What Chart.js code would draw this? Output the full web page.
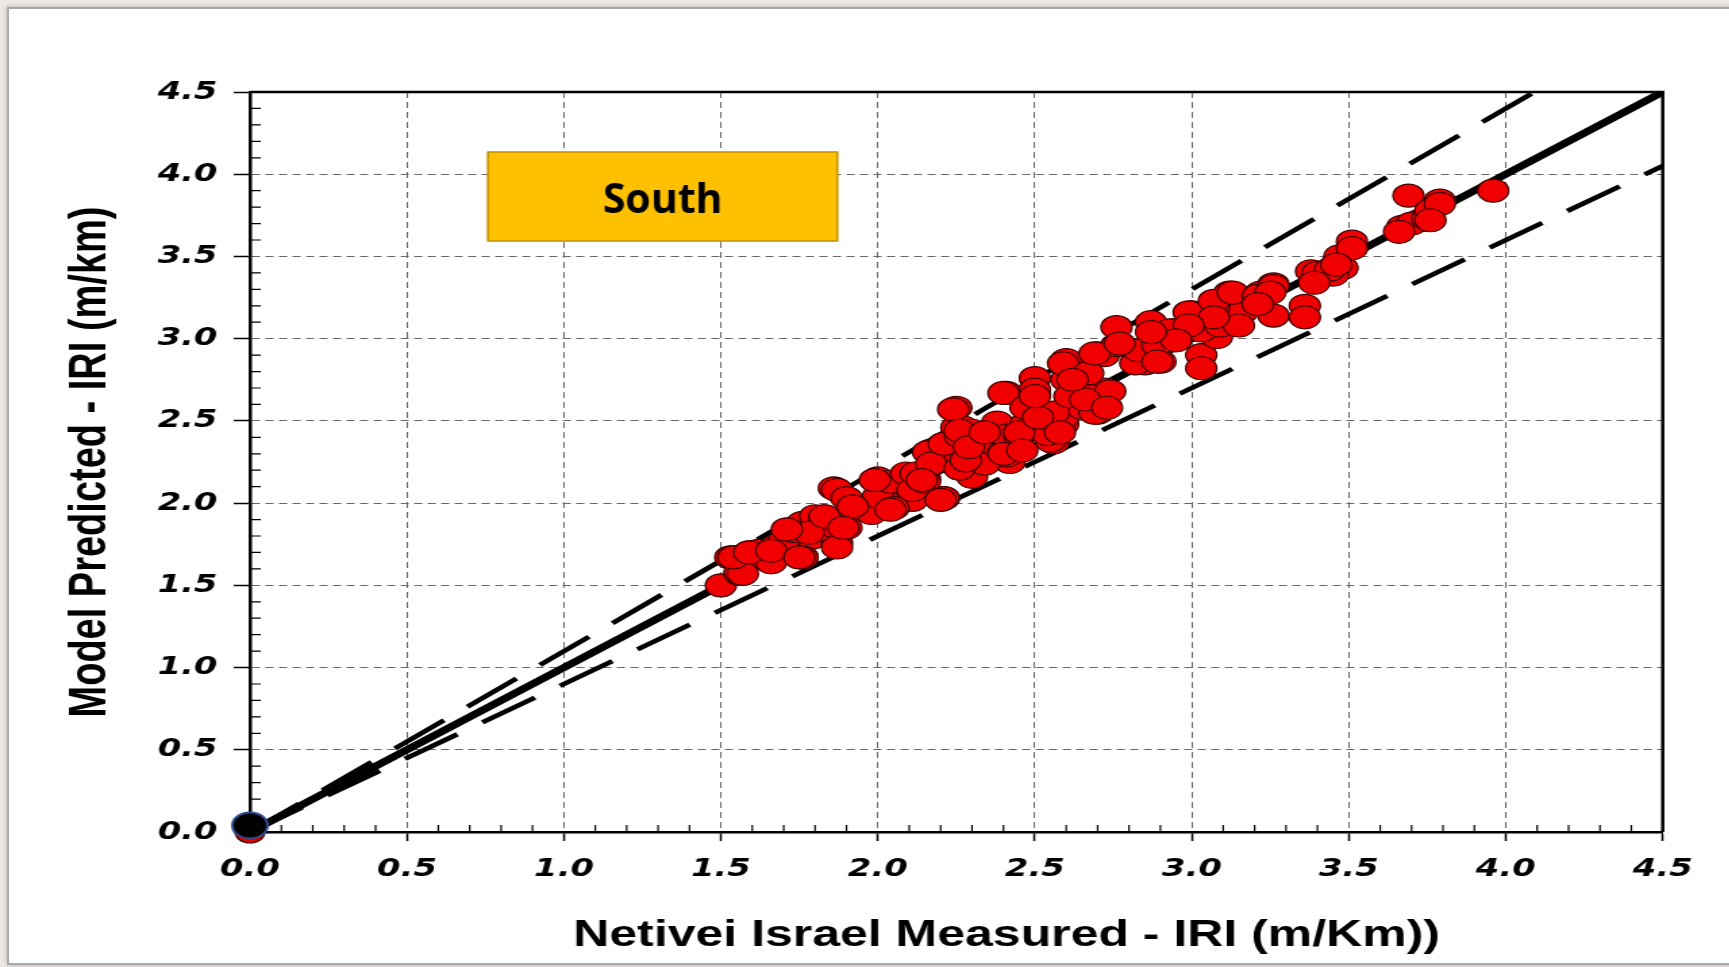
<!DOCTYPE html>
<html>
<head>
<meta charset="utf-8">
<title>South - IRI</title>
<script src="https://cdn.jsdelivr.net/npm/chart.js@4.4.1/dist/chart.umd.min.js"></script>
<style>
  html, body { margin: 0; padding: 0; }
  body { width: 1729px; height: 967px; background: #efe7e3; overflow: hidden; position: relative; }
  #slide { position: absolute; left: 7px; top: 7px; width: 1760px; height: 954px; background: #fff;
           border: 2px solid #a9a9a9; box-shadow: 0 0 5px rgba(0,0,0,0.25); }
  #wrap { position: absolute; left: 0; top: 0; height: 967px; transform-origin: 0 0; }
</style>
</head>
<body>
<div id="slide"></div>
<div id="wrap"><canvas id="myChart"></canvas></div>
<script>
// values
const measured = [
  1.50,1.56,1.53,1.59,1.66,1.76,1.72,1.79,1.83,1.86,1.87,1.93,1.90,2.00,2.05,2.11,2.15,2.18,2.21,2.27,
  2.25,2.30,2.39,2.42,2.46,2.54,2.56,2.59,2.35,2.08,
  2.25,2.27,2.41,2.50,2.50,2.60,2.60,2.46,2.41,2.59,2.70,2.76,2.72,2.70,2.55,2.85,2.89,2.95,3.03,3.08,
  2.21,2.17,2.34,2.65,2.76,
  3.51,3.47,3.40,3.36,3.26,3.22,3.26,3.12,3.16,3.00,3.07,2.94,3.03,2.90,2.88,3.67,3.73,
  3.69,3.79,3.96,3.70,3.75,3.76,3.48,3.45,
  1.62,1.65,1.67,1.70,1.73,1.76,1.80,1.82,1.86,1.87,1.90,1.93,1.98,2.00,2.04,2.05,2.09,2.11,2.12,2.15,
  2.16,2.17,2.21,2.21,2.26,2.26,2.28,2.30,2.37,2.38,2.40,2.40,2.41,2.45,2.47,2.47,2.50,2.54,2.56,2.59,
  2.61,2.68,2.69,2.72,2.74,2.76,2.82,2.83,2.87,2.89,2.89,2.93,2.99,3.07,3.09,3.13,3.21,3.26,3.38,3.40,
  3.44,1.54,1.59,1.56,1.66,1.76,1.83,
  1.57,1.54,1.59,1.66,1.75,1.78,1.71,1.83,1.87,1.92,1.89,1.99,2.04,2.14,2.20,2.24,2.26,2.29,2.34,2.40,
  2.45,2.50,2.51,2.58,2.66,2.67,2.69,
  3.79,3.66,3.76,3.51,3.46,3.39,3.36,3.25,3.21,3.15,3.07,2.99,3.03,2.95,2.87,2.77,2.73,2.62,2.50,2.46
];
const predicted = [
  1.50,1.57,1.67,1.70,1.70,1.67,1.84,1.79,1.92,2.09,1.76,1.98,1.85,2.15,2.00,2.02,2.15,2.32,2.03,2.22,
  2.46,2.16,2.30,2.25,2.43,2.46,2.37,2.48,2.40,2.12,
  2.58,2.46,2.67,2.76,2.67,2.87,2.75,2.44,2.29,2.52,2.91,2.96,2.69,2.55,2.38,2.85,2.96,3.05,2.90,3.01,
  2.30,2.32,2.24,2.58,3.07,
  3.59,3.50,3.40,3.20,3.33,3.28,3.14,3.28,3.16,3.16,3.19,3.05,3.05,2.86,2.98,3.68,3.72,
  3.87,3.84,3.90,3.70,3.73,3.78,3.43,3.39,
  1.71,1.69,1.73,1.77,1.83,1.88,1.92,1.84,1.86,2.08,2.03,1.97,1.94,2.04,2.13,1.97,2.18,2.08,2.18,2.13,
  2.31,2.24,2.36,2.03,2.21,2.41,2.26,2.44,2.36,2.49,2.31,2.67,2.41,2.41,2.48,2.58,2.68,2.42,2.55,2.85,
  2.65,2.65,2.55,2.90,2.68,2.96,2.85,2.93,3.10,2.96,2.86,3.05,3.16,3.23,3.08,3.28,3.26,3.32,3.41,3.40,
  3.42,1.67,1.67,1.58,1.64,1.67,1.91,
  1.57,1.67,1.70,1.71,1.67,1.82,1.84,1.92,1.73,1.98,1.85,2.14,1.96,2.14,2.02,2.57,2.44,2.34,2.43,2.30,
  2.43,2.69,2.52,2.43,2.63,2.79,2.91,
  3.82,3.65,3.72,3.55,3.45,3.34,3.13,3.28,3.21,3.08,3.13,3.08,2.82,2.99,3.04,2.97,2.58,2.75,2.65,2.32
];
const originX = [0];
const originY = [0.04];
const originRedY = [0];
const lineX = [0, 4.5];
const equalY = [0, 4.5];
const upperY = [0, 4.95];
const lowerY = [0, 4.05];
const tickValues = [0, 0.5, 1.0, 1.5, 2.0, 2.5, 3.0, 3.5, 4.0, 4.5];
const regionName = 'South';
const xTitle = 'Netivei Israel Measured - IRI (m/Km))';
const yTitle = 'Model Predicted - IRI (m/km)';

// the original picture is stretched sideways
const stretch = 1.35;
const wrap = document.getElementById('wrap');
wrap.style.width = (1729 / stretch) + 'px';
wrap.style.transform = 'scaleX(' + stretch + ')';

function pairs(xs, ys) {
  return xs.map((x, i) => ({ x: x, y: ys[i] }));
}

const tickFont = { family: '"DejaVu Sans", sans-serif', size: 25, weight: 'bold', style: 'italic' };

const decor = {
  id: 'decor',
  beforeDatasetsDraw(chart) {
    const ctx = chart.ctx, a = chart.chartArea;
    const xs = chart.scales.x, ys = chart.scales.y;
    ctx.save();
    // minor ticks inside the frame
    ctx.strokeStyle = '#000';
    ctx.lineWidth = 1.2;
    ctx.beginPath();
    for (let i = 1; i < 45; i++) {
      if (i % 5 === 0) continue;
      const px = xs.getPixelForValue(i / 10);
      ctx.moveTo(px, a.bottom);
      ctx.lineTo(px, a.bottom - 7);
      const py = ys.getPixelForValue(i / 10);
      ctx.moveTo(a.left, py);
      ctx.lineTo(a.left + 8, py);
    }
    ctx.stroke();
    // top and right side of the box
    ctx.lineWidth = 2.5;
    ctx.beginPath();
    ctx.moveTo(a.left, a.top);
    ctx.lineTo(a.right, a.top);
    ctx.lineTo(a.right, a.bottom);
    ctx.stroke();
    // region label
    const x1 = xs.getPixelForValue(0.758), x2 = xs.getPixelForValue(1.871);
    const y1 = ys.getPixelForValue(4.135), y2 = ys.getPixelForValue(3.594);
    ctx.fillStyle = '#ffc000';
    ctx.fillRect(x1, y1, x2 - x1, y2 - y1);
    ctx.strokeStyle = '#c49400';
    ctx.lineWidth = 1.6;
    ctx.strokeRect(x1, y1, x2 - x1, y2 - y1);
    ctx.translate((x1 + x2) / 2, (y1 + y2) / 2 + 5);
    ctx.scale(1 / stretch, 1);
    ctx.fillStyle = '#000';
    ctx.font = 'bold 41px "Open Sans", sans-serif';
    ctx.textAlign = 'center';
    ctx.textBaseline = 'middle';
    ctx.fillText(regionName, 0, 0);
    ctx.restore();
  },
  afterDraw(chart) {
    const ctx = chart.ctx, a = chart.chartArea;
    ctx.save();
    ctx.fillStyle = '#000';
    ctx.font = 'bold 37px "Liberation Sans", Arial, sans-serif';
    ctx.textAlign = 'center';
    ctx.textBaseline = 'middle';
    ctx.fillText(xTitle, chart.scales.x.getPixelForValue(2.41), a.bottom + 104);
    ctx.restore();
  }
};

const ctx = document.getElementById('myChart').getContext('2d');
const myChart = new Chart(ctx, {
  type: 'scatter',
  data: {
    datasets: [{
      label: 'origin',
      data: pairs(originX, originY),
      backgroundColor: '#000',
      borderColor: '#2d4b8e',
      borderWidth: 2,
      pointRadius: 13,
      clip: false
    }, {
      label: 'origin red',
      data: pairs(originX, originRedY),
      backgroundColor: '#e60000',
      borderColor: '#3a0000',
      borderWidth: 1.2,
      pointRadius: 11,
      clip: false
    }, {
      label: 'South',
      data: pairs(measured, predicted),
      backgroundColor: '#f00000',
      borderColor: '#3c0000',
      borderWidth: 1.2,
      pointRadius: 11.5
    }, {
      label: 'line of equality',
      data: pairs(lineX, equalY),
      showLine: true,
      pointRadius: 0,
      borderColor: '#000',
      borderWidth: 7
    }, {
      label: '+10%',
      data: pairs(lineX, upperY),
      showLine: true,
      pointRadius: 0,
      borderColor: '#000',
      borderWidth: 4.5,
      borderDash: [46, 22]
    }, {
      label: '-10%',
      data: pairs(lineX, lowerY),
      showLine: true,
      pointRadius: 0,
      borderColor: '#000',
      borderWidth: 4.5,
      borderDash: [46, 22]
    }]
  },
  options: {
    responsive: true,
    maintainAspectRatio: false,
    animation: false,
    layout: { padding: { top: 92, right: 50, left: 0, bottom: 0 } },
    plugins: {
      legend: { display: false },
      tooltip: { enabled: false }
    },
    scales: {
      x: {
        type: 'linear',
        min: 0,
        max: 4.5,
        afterFit: s => { s.height = 135; },
        afterBuildTicks: s => { s.ticks = tickValues.map(v => ({ value: v })); },
        ticks: {
          autoSkip: false,
          maxRotation: 0,
          padding: 13,
          color: '#000',
          font: tickFont,
          callback: v => v.toFixed(1)
        },
        grid: { color: '#666', lineWidth: 1, tickLength: 9, tickColor: '#000', tickWidth: 1.5 },
        border: { color: '#000', width: 2.5, dash: [6, 4] },
        title: { display: false }
      },
      y: {
        type: 'linear',
        min: 0,
        max: 4.5,
        afterFit: s => { s.width = 185; },
        afterBuildTicks: s => { s.ticks = tickValues.map(v => ({ value: v })); },
        ticks: {
          autoSkip: false,
          padding: 12,
          color: '#000',
          font: tickFont,
          callback: v => v.toFixed(1)
        },
        grid: { color: '#666', lineWidth: 1, tickLength: 12, tickColor: '#000', tickWidth: 1.5 },
        border: { color: '#000', width: 2.5, dash: [6, 4] },
        title: {
          display: true,
          text: yTitle,
          color: '#000',
          font: { family: '"Liberation Sans", Arial, sans-serif', size: 38, weight: 'bold' },
          padding: { top: 45, bottom: 0 }
        }
      }
    }
  },
  plugins: [decor]
});
</script>
</body>
</html>
